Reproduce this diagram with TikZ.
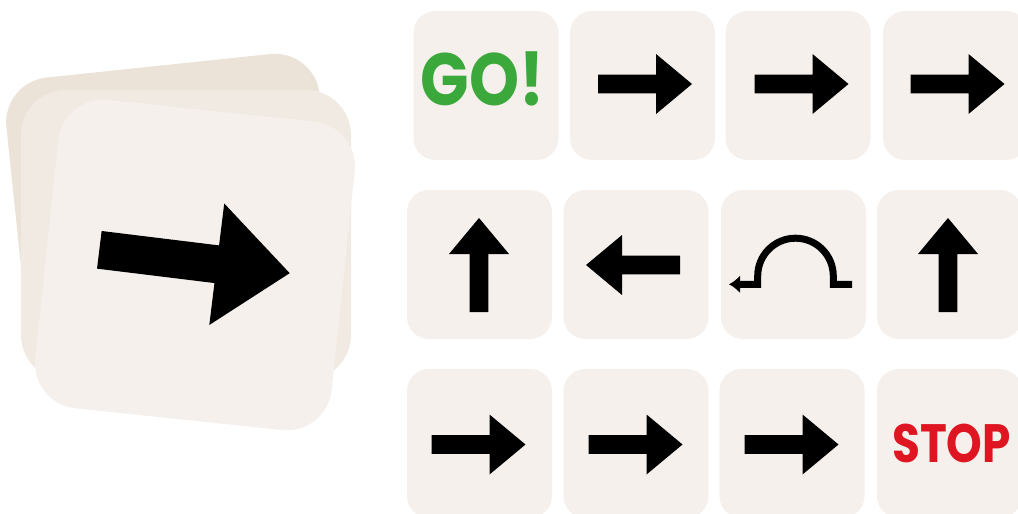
\documentclass[tikz,border=0pt]{standalone}
\usepackage{fontspec}
\newfontfamily\handfont{Poppins}
\usetikzlibrary{arrows.meta}
\definecolor{cardc}{RGB}{246,240,237}
\definecolor{backc}{RGB}{236,227,216}
\definecolor{midc}{RGB}{241,234,226}
\definecolor{gogreen}{RGB}{58,168,58}
\definecolor{stopred}{RGB}{222,22,34}
\tikzset{
  tile/.style={fill=cardc, draw=none, rounded corners=22pt, minimum width=145pt, minimum height=149pt, inner sep=0pt},
  stackcard/.style={draw=none, rounded corners=45pt, inner sep=0pt},
  rarrow/.pic={\fill[black] (-47,9.3) -- (11,9.3) -- (11,30) -- (47,0) -- (11,-30) -- (11,-9.3) -- (-47,-9.3) -- cycle;},
  uturn/.style={line width=7pt, line join=miter, line cap=butt, -{Latex[length=11pt,width=18pt]}},
  cardtext/.style={inner sep=0pt, anchor=base}
}
\begin{document}
\begin{tikzpicture}[x=1pt,y=1pt]
\useasboundingbox (0,0) rectangle (1018,-514);
\clip (0,0) rectangle (1018,-514);
\fill[white] (0,0) rectangle (1018,-514);
% left stack
\node[stackcard, fill=backc, minimum width=315pt, minimum height=300pt, rotate=6] (s1) at (174,-215) {};
\node[stackcard, fill=midc, minimum width=330pt, minimum height=290pt] (s2) at (186,-235) {};
\node[stackcard, fill=cardc, minimum width=298pt, minimum height=310pt, rotate=-6] (s3) at (195,-265) {};
\pic[scale=2.04, rotate=-7] at (194.5,-261.5) {rarrow};
% row 1
\node[tile] (c11) at (486,-85.5) {};
\node[tile] (c12) at (642.5,-85.5) {};
\node[tile] (c13) at (798,-85.5) {};
\node[tile] (c14) at (955.5,-85.5) {};
% row 2
\node[tile] (c21) at (479.5,-264.5) {};
\node[tile] (c22) at (636,-264.5) {};
\node[tile] (c23) at (793.5,-264.5) {};
\node[tile] (c24) at (949.5,-264.5) {};
% row 3
\node[tile] (c31) at (479.5,-443.5) {};
\node[tile] (c32) at (636,-443.5) {};
\node[tile] (c33) at (792,-443.5) {};
\node[tile] (c34) at (949.5,-443.5) {};
% contents
\node[cardtext, text=gogreen, xscale=0.86, font=\handfont\bfseries\fontsize{74}{80}\selectfont] (go) at (482.5,-105) {GO!};
\pic at (645,-84) {rarrow};
\pic at (801.5,-84) {rarrow};
\pic at (957.5,-84) {rarrow};
\pic[rotate=90] at (479,-265) {rarrow};
\pic[rotate=180] at (633,-265) {rarrow};
\coordinate (ustart) at (852,-284.3);
\coordinate (uend) at (729,-284.3);
\draw[uturn] (ustart) -- (833.3,-284.3) -- (833.3,-276) arc[start angle=0, end angle=180, radius=37.8] -- (757.7,-284.3) -- (uend);
\pic[rotate=90] at (948,-265) {rarrow};
\pic at (478.5,-444.5) {rarrow};
\pic at (635.5,-444.5) {rarrow};
\pic at (791.5,-444.5) {rarrow};
\node[cardtext, text=stopred, xscale=0.84, font=\handfont\bfseries\fontsize{54}{60}\selectfont] (stop) at (951.5,-462) {STOP};
\end{tikzpicture}
\end{document}
